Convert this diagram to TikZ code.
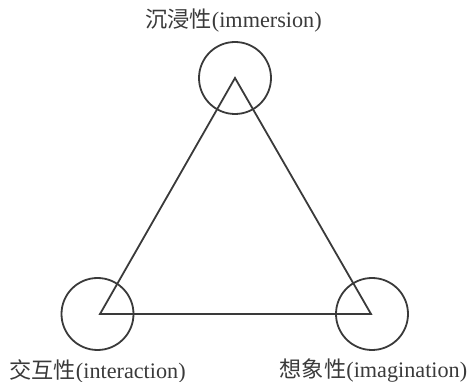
\documentclass[tikz,border=0pt]{standalone}
\usepackage{fontspec}
\setmainfont{Liberation Serif}
\newfontfamily\cjk{Noto Sans CJK SC}
\definecolor{ink}{HTML}{3A3A3A}
\begin{document}
\begin{tikzpicture}[x=1pt,y=-1pt,
  ring/.style={circle,draw=ink,line width=1.8pt,minimum size=72pt,inner sep=0pt},
  edge/.style={draw=ink,line width=1.8pt,line join=miter},
  lab/.style={text=ink,font=\fontsize{22.2}{25}\selectfont,inner sep=0pt,anchor=center}]
\useasboundingbox (0,0) rectangle (469,382);
\coordinate (top) at (235,78);
\coordinate (bl) at (100,314);
\coordinate (br) at (371,314);
\node[ring] (ctop) at (235,78) {};
\node[ring] (cbl) at (97.5,314) {};
\node[ring] (cbr) at (372,314) {};
\draw[edge] (top) -- (bl) -- (br) -- cycle;
\node[lab] (ltop) at (233.5,21) {{\cjk 沉浸性}(immersion)};
\node[lab] (lbl) at (97.5,371) {{\cjk 交互性}(interaction)};
\node[lab] (lbr) at (373.5,371) {{\cjk 想象性}(imagination)};
\end{tikzpicture}
\end{document}
